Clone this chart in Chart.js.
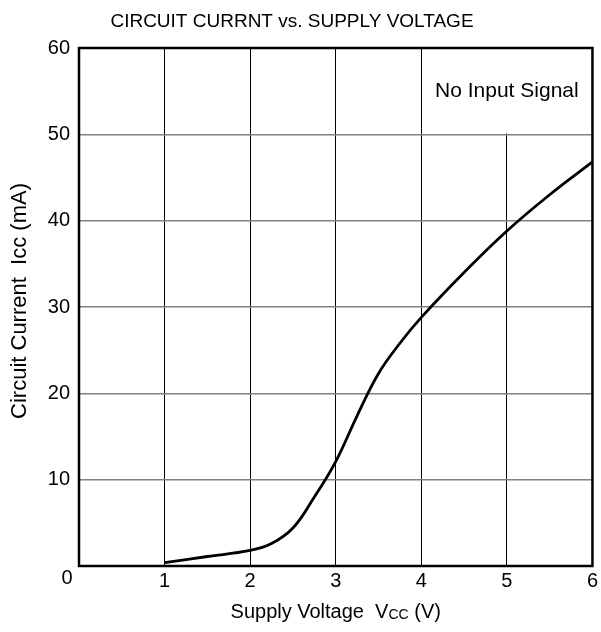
<!DOCTYPE html>
<html>
<head>
<meta charset="utf-8">
<script src="https://cdn.jsdelivr.net/npm/chart.js@4"></script>
<style>
  html, body { margin: 0; padding: 0; background: #fff; }
  #wrap { width: 601px; height: 632px; }
</style>
</head>
<body>
<div id="wrap"><canvas id="chart" width="601" height="632"></canvas></div>
<script>
// values
const voltage = [1, 1.5, 2, 2.25, 2.5, 2.75, 3, 3.25, 3.5, 3.75, 4, 4.5, 5, 5.5, 6];
const current = [0.4, 1.1, 1.8, 2.6, 4.4, 8.0, 12.1, 17.4, 22.3, 25.8, 28.8, 34.0, 38.8, 43.0, 46.8];
const xTicks = [0, 1, 2, 3, 4, 5, 6];
const yTicks = [0, 10, 20, 30, 40, 50, 60];

const FONT = 'Arial, "Liberation Sans", Helvetica, sans-serif';

// title, axis names, note box and frame
const extras = {
    id: 'extras',
    beforeDatasetsDraw(chart) {
        const { ctx, scales: { x, y } } = chart;
        // white box over the grid behind the note
        ctx.save();
        ctx.fillStyle = '#fff';
        const l = x.getPixelForValue(4) + 1, r = x.getPixelForValue(6);
        const t = y.getPixelForValue(60), b = y.getPixelForValue(50) - 1;
        ctx.fillRect(l, t, r - l, b - t);
        ctx.restore();
    },
    afterDraw(chart) {
        const { ctx, chartArea: a, scales: { x, y } } = chart;
        ctx.save();
        ctx.strokeStyle = '#000';
        ctx.lineWidth = 2.5;
        ctx.strokeRect(a.left, a.top, a.right - a.left, a.bottom - a.top);

        ctx.fillStyle = '#000';
        ctx.textBaseline = 'middle';
        ctx.textAlign = 'center';
        ctx.font = '19px ' + FONT;
        ctx.fillText('CIRCUIT CURRNT vs. SUPPLY VOLTAGE', 292, 22);

        ctx.font = '21px ' + FONT;
        ctx.fillText('No Input Signal', (x.getPixelForValue(4) + x.getPixelForValue(6)) / 2 + 0,
            (y.getPixelForValue(60) + y.getPixelForValue(50)) / 2);

        // zero label sits below the corner
        ctx.font = '20px ' + FONT;
        ctx.fillText('0', a.left - 12, a.bottom + 12);

        // x axis name with subscript
        const parts = [['Supply Voltage  V', 20, 0], ['CC', 14, 3], [' (V)', 20, 0]];
        let w = 0;
        parts.forEach(p => { ctx.font = p[1] + 'px ' + FONT; w += ctx.measureText(p[0]).width; });
        let cx = (a.left + a.right) / 2 - w / 2;
        ctx.textAlign = 'left';
        parts.forEach(p => {
            ctx.font = p[1] + 'px ' + FONT;
            ctx.fillText(p[0], cx, 612 + p[2]);
            cx += ctx.measureText(p[0]).width;
        });

        // y axis name
        ctx.translate(20, 301);
        ctx.rotate(-Math.PI / 2);
        ctx.textAlign = 'center';
        ctx.font = '22px ' + FONT;
        ctx.fillText('Circuit Current  Icc (mA)', 0, 0);
        ctx.restore();
    }
};

new Chart(document.getElementById('chart').getContext('2d'), {
    type: 'line',
    data: {
        datasets: [{
            data: voltage.map((v, i) => ({ x: v, y: current[i] })),
            borderColor: '#000',
            borderWidth: 2.8,
            pointRadius: 0,
            fill: false,
            tension: 0.4
        }]
    },
    options: {
        responsive: false,
        animation: false,
        layout: { padding: { top: 48, right: 2, left: 0, bottom: 0 } },
        plugins: { legend: { display: false }, tooltip: { enabled: false } },
        scales: {
            x: {
                type: 'linear',
                min: 0, max: 6,
                afterBuildTicks: s => { s.ticks = xTicks.map(v => ({ value: v })); },
                afterFit: s => { s.height = 66; },
                grid: { color: '#000', lineWidth: 1, drawTicks: false },
                border: { display: false },
                ticks: {
                    color: '#000', padding: 3,
                    font: { family: FONT, size: 20 },
                    callback: v => v === 0 ? '' : v
                }
            },
            y: {
                min: 0, max: 60,
                afterBuildTicks: s => { s.ticks = yTicks.map(v => ({ value: v })); },
                afterFit: s => { s.width = 79; },
                grid: { color: '#808080', lineWidth: 1.5, drawTicks: false },
                border: { display: false },
                ticks: {
                    color: '#000', padding: 9,
                    font: { family: FONT, size: 20 },
                    callback: v => v === 0 ? '' : v
                }
            }
        }
    },
    plugins: [extras]
});
</script>
</body>
</html>
